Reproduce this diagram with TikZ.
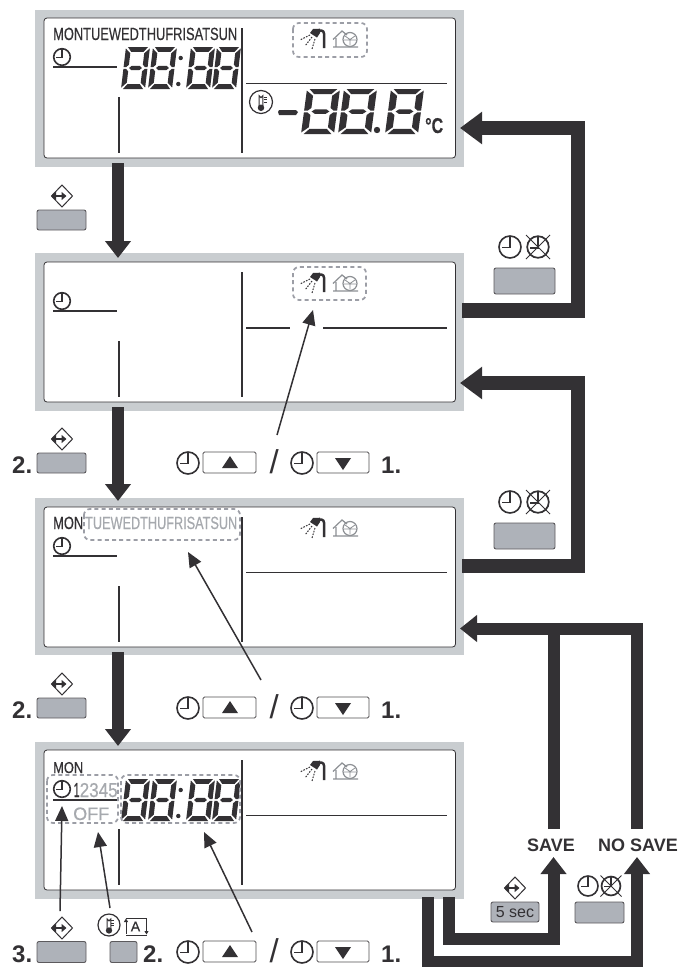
\documentclass[tikz,border=0pt]{standalone}
\usepackage{fontspec}
\usepackage{graphicx}
\setmainfont{Liberation Sans}
\newfontfamily\semib[FakeBold=0.5]{Liberation Sans}
\usetikzlibrary{arrows.meta,shapes.geometric}
\definecolor{lcdk}{HTML}{333134}
\definecolor{frameg}{HTML}{C9CDD0}
\definecolor{btng}{HTML}{AEB2B9}
\definecolor{txtg}{HTML}{A6A9AE}
\definecolor{dashg}{HTML}{9C9EA6}
\newcommand{\segdig}[5]{%
\begin{scope}[shift={(#1+#5,#2)},x={(#3pt,0pt)},y={(-#5pt,-#4pt)}]
\fill[lcdk] (.08,0)--(.92,0)--(.76,.115)--(.24,.115)--cycle;
\fill[lcdk] (.24,.885)--(.76,.885)--(.92,1)--(.08,1)--cycle;
\fill[lcdk] (.23,.5)--(.33,.45)--(.67,.45)--(.77,.5)--(.67,.55)--(.33,.55)--cycle;
\fill[lcdk] (0,.035)--(.21,.15)--(.21,.42)--(.11,.48)--(0,.48)--cycle;
\fill[lcdk] (1,.035)--(1,.48)--(.89,.48)--(.79,.42)--(.79,.15)--cycle;
\fill[lcdk] (0,.52)--(.11,.52)--(.21,.58)--(.21,.85)--(0,.965)--cycle;
\fill[lcdk] (1,.52)--(1,.965)--(.79,.85)--(.79,.58)--(.89,.52)--cycle;
\end{scope}}
\newcommand{\timedigits}{%
\segdig{121}{47}{24}{42}{5}\segdig{148}{47}{24}{42}{5}
\fill[lcdk] (180.7,58) circle (2.2) (178.3,84) circle (2.2);
\segdig{186}{47}{24}{42}{5}\segdig{212}{47}{24}{42}{5}}
\tikzset{
 x=1pt,y=-1pt,
 frame/.style={fill=frameg,draw=none,inner sep=0pt,minimum width=429pt,minimum height=157pt},
 screen/.style={fill=white,draw=lcdk,line width=.8pt,rounded corners=3pt,inner sep=0pt,minimum width=411.5pt,minimum height=140pt},
 rule/.style={draw=lcdk,line width=1.8pt},
 dashbox/.style={draw=dashg,line width=1.7pt,dash pattern=on 4pt off 3.2pt,rounded corners=6pt},
 bigA/.style={draw=lcdk,line width=14.5pt,-{Triangle[length=22pt,width=31pt]},miter limit=10},
 bigB/.style={draw=lcdk,line width=12pt,-{Triangle[length=17pt,width=25pt]},miter limit=10},
 bigC/.style={draw=lcdk,line width=12pt,miter limit=10},
 thin/.style={draw=lcdk,line width=1.5pt,-{Triangle[length=15pt,width=13pt]}},
 btn/.style={fill=btng,draw=lcdk!80,line width=.9pt,rounded corners=2pt,inner sep=0pt},
 keybox/.style={fill=white,draw=lcdk!85,line width=.9pt,rounded corners=1.5pt,inner sep=0pt},
 lbl/.style={inner sep=0pt,text=lcdk,anchor=base west},
 clockp/.pic={\draw[lcdk,line width=1.6pt] (0,0) circle (1);
   \draw[lcdk,line width=1.6pt] (0,-1)--(0,.05)--(-.75,.05);},
 crossp/.pic={\draw[lcdk,line width=1.7pt] (0,0) circle (.9);
   \draw[lcdk,line width=1pt] (-1,-1)--(1,1) (1,-1)--(-1,1);
   \draw[lcdk,line width=1.8pt] (0,-.9)--(0,.05)--(-.7,.05);},
 diamp/.pic={\draw[lcdk,line width=1pt,fill=white] (0,-11)--(10.5,0)--(0,11)--(-10.5,0)--cycle;
   \draw[lcdk,line width=2.4pt,{Triangle[length=5pt,width=8pt]}-{Triangle[length=5pt,width=8pt]}] (-11,0)--(4.5,0);},
 thermop/.pic={\draw[lcdk,line width=1.2pt] (0,0) circle (1);
   \draw[lcdk,line width=1pt] (-.17,.35)--(-.17,-.55) arc (180:0:.17) --(.17,.35);
   \draw[lcdk,line width=.9pt,fill=lcdk] (0,.5) circle (.24);
   \draw[lcdk,line width=.6pt] (.22,-.45)--(.48,-.45) (.22,-.2)--(.48,-.2) (.22,.05)--(.48,.05);},
 showerp/.pic={%
   \draw[lcdk,line width=2.5pt] (24,19)--(24,4.5) arc (0:-80:3)--(15,1.5);
   \fill[lcdk] (10,4)--(13,0)--(20,-.3)--(20,4)--(17,8.5)--cycle;
   \draw[lcdk,line width=1pt,dash pattern=on 1.6pt off 1.3pt] (10,6)--(0,11) (12,8)--(5,17) (15,10)--(12,20);},
 housep/.pic={%
   \draw[txtg!85!black,line width=1.2pt] (0,17)--(25,17) (3,17)--(3,8) (0,9.5)--(9,1)--(14,5);
   \draw[txtg!85!black,line width=1.2pt] (17,9.5) circle (7);
   \draw[txtg!85!black,line width=.8pt] (17,15)--(17,9.5)--(12,6) (17,9.5)--(22,6) (11,10)--(23,10);},
}
\begin{document}
\begin{tikzpicture}
\useasboundingbox (0,0) rectangle (692,967);
% frames and screens
\node[frame] (f1) at (249.5,88.5) {};
\node[frame,minimum height=158pt] (f2) at (249.5,332) {};
\node[frame] (f3) at (249.5,576.5) {};
\node[frame] (f4) at (249.5,820.5) {};
\node[screen] (s1) at (249.75,88) {};
\node[screen] (s2) at (249.75,332) {};
\node[screen] (s3) at (249.75,577) {};
\node[screen] (s4) at (249.75,820) {};
% panel 1
\draw[rule] (118.7,97)--(118.7,153) (241.7,28)--(241.7,153) (53,66.7)--(117,66.7) (246,83.5)--(447,83.5);
\pic[scale=8.3] at (62,57) {clockp};
\node[lbl] (days1) at (53,40) {\resizebox{184pt}{12.3pt}{\semib MONTUEWEDTHUFRISATSUN}};
\timedigits
\draw[dashbox] (293,23) rectangle (367,57);
\pic at (300,29) {showerp};
\pic at (333,30) {housep};
\pic[scale=11.5] at (261,102) {thermop};
\fill[lcdk] (279,110)--(296,110)--(298,112)--(296,115)--(279,115)--(278,112)--cycle;
\segdig{301}{89}{33}{45}{6}
\segdig{338}{89}{33}{45}{6}
\fill[lcdk] (377,130) circle (3.2);
\segdig{385}{89}{33}{45}{6}
\node[lbl] (deg) at (425,133) {\resizebox{18pt}{15pt}{\semib\bfseries °C}};
% panel 2
\begin{scope}[shift={(0,244)}]
\draw[rule] (118.7,97)--(118.7,153) (241.7,28)--(241.7,153) (53,66.7)--(117,66.7) (246,84)--(290,84) (323,84)--(447,84);
\pic[scale=8.3] at (62,57) {clockp};
\draw[dashbox] (293,23) rectangle (366,56);
\pic at (300,29) {showerp};
\pic at (333,30) {housep};
\end{scope}
% panel 3
\begin{scope}[shift={(0,489)}]
\draw[rule] (118.7,97)--(118.7,153) (241.7,28)--(241.7,153) (53,66.7)--(117,66.7) (246,83.5)--(447,83.5);
\pic[scale=8.3] at (62,57) {clockp};
\node[lbl] (mon3) at (53,40) {\resizebox{30pt}{12.3pt}{\semib MON}};
\node[lbl,text=txtg] (days3) at (85,40) {\resizebox{152pt}{12.3pt}{\semib TUEWEDTHUFRISATSUN}};
\draw[dashbox] (84,20) rectangle (240,51);
\pic at (300,29) {showerp};
\pic at (333,30) {housep};
\end{scope}
% panel 4
\begin{scope}[shift={(0,732)}]
\draw[rule] (118.7,97)--(118.7,153) (241.7,28)--(241.7,153) (53,68)--(117,68) (246,83.5)--(447,83.5);
\pic[scale=8.3] at (62,57) {clockp};
\node[lbl] (mon4) at (53,41) {\resizebox{30pt}{11pt}{\semib MON}};
\node[lbl] (one4) at (73.5,65) {\resizebox{6pt}{14pt}{\semib 1}};
\node[lbl,text=txtg] (num4) at (79.5,65) {\resizebox{38pt}{14pt}{\semib 2345}};
\node[lbl,text=txtg,font=\fontsize{18}{18}\selectfont\semib] (off4) at (73,88) {OFF};
\timedigits
\draw[dashbox] (47,43) rectangle (118,91);
\draw[dashbox] (121,43) rectangle (240,91);
\pic at (300,29) {showerp};
\pic at (333,30) {housep};
\end{scope}
% left side keys
\node[btn,minimum width=49pt,minimum height=20pt] (k1) at (61.5,220) {};
\pic at (62,196) {diamp};
\node[btn,minimum width=49pt,minimum height=20pt] (k2) at (61.5,463) {};
\pic at (62,439) {diamp};
\node[lbl,font=\fontsize{24}{24}\selectfont\bfseries] (n2a) at (12,473) {2.};
\node[btn,minimum width=49pt,minimum height=20pt] (k3) at (61.5,708) {};
\pic at (62,684) {diamp};
\node[lbl,font=\fontsize{24}{24}\selectfont\bfseries] (n2b) at (12,718) {2.};
\node[btn,minimum width=49pt,minimum height=21pt] (k4) at (61.5,952) {};
\pic at (62,928) {diamp};
\node[lbl,font=\fontsize{24}{24}\selectfont\bfseries] (n3) at (12,962) {3.};
\node[btn,minimum width=27pt,minimum height=21pt] (k5) at (123.5,952) {};
\node[lbl,font=\fontsize{24}{24}\selectfont\bfseries] (n2c) at (143,962) {2.};
\pic[scale=11] at (109,925) {thermop};
% [A] icon
\node[inner sep=0pt,text=lcdk,font=\fontsize{14}{14}\selectfont\semib] (aicon) at (135.5,926.5) {A};
\draw[lcdk,line width=1pt,-{Triangle[length=3.5pt,width=4pt]}] (126,934)--(126,918.5);
\draw[lcdk,line width=1pt] (126,918)--(147,918);
\draw[lcdk,line width=1pt,-{Triangle[length=3.5pt,width=4pt]}] (146.5,918)--(146.5,934.5);
\draw[lcdk,line width=1pt] (126,935)--(147,935);
% up/down key rows
\foreach \r/\yy in {a/463,b/708,c/952}{
 \pic[scale=11] at (188,\yy) {clockp};
 \node[keybox,minimum width=53pt,minimum height=21pt] (up\r) at (229.5,\yy-.5) {};
 \fill[lcdk] (222,\yy+5)--(238,\yy+5)--(230,\yy-7)--cycle;
 \node[lbl,font=\fontsize{33}{33}\selectfont] (sl\r) at (269.5,\yy+10) {/};
 \pic[scale=11] at (302,\yy) {clockp};
 \node[keybox,minimum width=52pt,minimum height=21pt] (dn\r) at (343,\yy-.5) {};
 \fill[lcdk] (335,\yy-5)--(351,\yy-5)--(343,\yy+7)--cycle;
 \node[lbl,font=\fontsize{24}{24}\selectfont\bfseries] (one\r) at (381,\yy+10) {1.};
}
% right keys
\pic[scale=11] at (510,247) {clockp};
\pic[scale=12] at (538,247) {crossp};
\node[btn,minimum width=61pt,minimum height=26pt] (r1) at (524.5,281) {};
\pic[scale=11] at (510,502) {clockp};
\pic[scale=12] at (538,502) {crossp};
\node[btn,minimum width=61pt,minimum height=26pt] (r2) at (524.5,536) {};
\pic at (515,888) {diamp};
\node[btn,minimum width=48pt,minimum height=20pt,font=\fontsize{16}{16}\selectfont,text=lcdk] (r3) at (515,912) {5 sec};
\pic[scale=10] at (588,886) {clockp};
\pic[scale=10.5] at (611,886) {crossp};
\node[btn,minimum width=49pt,minimum height=21pt] (r4) at (599.5,912.5) {};
\node[lbl,font=\fontsize{18}{18}\selectfont\bfseries] (save) at (527,851.5) {SAVE};
\node[lbl,font=\fontsize{18}{18}\selectfont\bfseries] (nosave) at (598,851.5) {NO SAVE};
% thin pointers
\coordinate (t1a) at (277,435); \coordinate (t1b) at (313,310);
\coordinate (t2a) at (261,680); \coordinate (t2b) at (188,552);
\coordinate (t3a) at (60,911); \coordinate (t3b) at (62,806);
\coordinate (t4a) at (110,908); \coordinate (t4b) at (98,832);
\coordinate (t5a) at (252,932); \coordinate (t5b) at (204,832);
\draw[thin] (t1a)--(t1b);
\draw[thin] (t2a)--(t2b);
\draw[thin] (t3a)--(t3b);
\draw[thin] (t4a)--(t4b);
\draw[thin] (t5a)--(t5b);
% thick flow arrows
\coordinate (d1a) at (118,163); \coordinate (d1b) at (118,258);
\coordinate (d2a) at (118,407); \coordinate (d2b) at (118,501);
\coordinate (d3a) at (118,652); \coordinate (d3b) at (118,746);
\draw[bigB] (d1a)--(d1b);
\draw[bigB] (d2a)--(d2b);
\draw[bigB] (d3a)--(d3b);
\coordinate (e1a) at (462,310.5); \coordinate (e1c) at (578,310.5); \coordinate (e1d) at (578,128); \coordinate (e1b) at (460,128);
\draw[bigA] (e1a)--(e1c)--(e1d)--(e1b);
\coordinate (e2a) at (462,566); \coordinate (e2c) at (578,566); \coordinate (e2d) at (578,383); \coordinate (e2b) at (460,383);
\draw[bigA] (e2a)--(e2c)--(e2d)--(e2b);
\coordinate (g1) at (637,829); \coordinate (g2) at (637,628.5); \coordinate (g3) at (460,628.5); \coordinate (g4) at (554,829); \coordinate (g5) at (554,628.5);
\draw[bigB,-{Triangle[length=17pt,width=26pt]}] (g1)--(g2)--(g3);
\draw[bigC] (g4)--(g5);
\coordinate (h1) at (449,897); \coordinate (h2) at (449,939); \coordinate (h3) at (553.5,939); \coordinate (h4) at (553.5,857);
\draw[bigB] (h1)--(h2)--(h3)--(h4);
\coordinate (i1) at (427.5,897); \coordinate (i2) at (427.5,962); \coordinate (i3) at (637,962); \coordinate (i4) at (637,857);
\draw[bigB] (i1)--(i2)--(i3)--(i4);
\end{tikzpicture}
\end{document}
